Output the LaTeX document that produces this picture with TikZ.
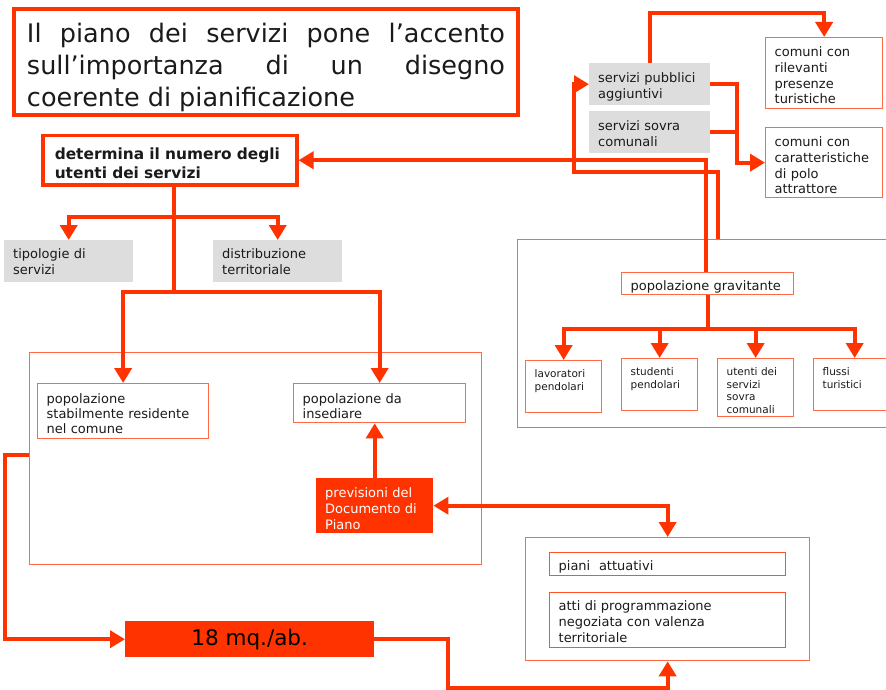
\documentclass[tikz,border=0pt]{standalone}
\usepackage{fontspec}
\setmainfont{DejaVu Sans}
\usetikzlibrary{arrows.meta}
\definecolor{rd}{HTML}{FF3300}
\definecolor{thin}{HTML}{FF6A45}
\definecolor{gr}{HTML}{DDDDDD}
\definecolor{tx}{HTML}{1A1A1A}
\begin{document}
\begin{tikzpicture}[x=1pt,y=-1pt,
 conn/.style={draw=rd,line width=4pt},
 arr/.style={conn,-{Triangle[width=17pt,length=15pt]}},
 dbl/.style={conn,{Triangle[width=17pt,length=15pt]}-{Triangle[width=17pt,length=15pt]}},
 bx/.style={anchor=north west,inner xsep=9pt,inner ysep=0pt,align=left,text=tx,font=\fontsize{13}{16}\selectfont},
 thinb/.style={bx,draw=thin,line width=1.3pt},
 grayb/.style={bx,fill=gr},
 smallb/.style={thinb,font=\fontsize{10.5}{12.6}\selectfont},
 bigframe/.style={draw=thin,line width=1.3pt,anchor=north west,inner sep=0pt},
]
\useasboundingbox (0,0) rectangle (886,690);

% title
\node[bx,draw=rd,line width=4pt,inner xsep=13pt,text width=478pt,text height=34pt,text depth=72pt,align=justify,font=\fontsize{25.5}{32}\selectfont] (title) at (12,7) {Il piano dei servizi pone l’accento\linebreak sull’importanza di un disegno\linebreak coerente di pianificazione};

% left part
\node[bx,draw=rd,line width=3.5pt,inner xsep=12pt,text width=230pt,text height=24pt,text depth=25pt,font=\bfseries\fontsize{15.4}{18.5}\selectfont] (det) at (41,134) {determina il numero degli\\utenti dei servizi};
\node[grayb,text width=111pt,text height=18pt,text depth=24pt] (tip) at (4,240) {tipologie di\\servizi};
\node[grayb,text width=111pt,text height=18pt,text depth=24pt] (dist) at (213,240) {distribuzione\\territoriale};
\node[bigframe,minimum width=452pt,minimum height=212pt] (lbig) at (29,352) {};
\node[thinb,text width=153pt,text height=20pt,text depth=35pt,font=\fontsize{13}{15}\selectfont] (stab) at (37,383) {popolazione\\stabilmente residente\\nel comune};
\node[thinb,text width=154pt,text height=20pt,text depth=19pt,font=\fontsize{13}{15}\selectfont] (ins) at (293,383) {popolazione da\\insediare};
\node[bx,fill=rd,text=white,text width=99pt,text height=19pt,text depth=36pt] (prev) at (316,478) {previsioni del\\Documento di\\Piano};

% bottom
\node[bigframe,minimum width=284pt,minimum height=123pt] (rb) at (525,537) {};
\node[thinb,draw=rd!85!white,text width=218pt,text height=18pt,text depth=5pt] (piani) at (549,552) {piani\ \ attuativi};
\node[thinb,draw=rd!85!white,text width=218pt,text height=18pt,text depth=37pt] (atti) at (549,592) {atti di programmazione\\negoziata con valenza\\territoriale};
\node[fill=rd,anchor=north west,minimum width=249pt,minimum height=36pt,inner sep=0pt,font=\fontsize{21.5}{24}\selectfont,text=black] (mq) at (125,621) {18 mq./ab.};

% top right
\node[grayb,text width=103pt,text height=19pt,text depth=23pt] (spa) at (589,63) {servizi pubblici\\aggiuntivi};
\node[grayb,text width=103pt,text height=19pt,text depth=23pt] (ssc) at (589,111) {servizi sovra\\comunali};
\node[thinb,text width=99pt,text height=19pt,text depth=52pt,font=\fontsize{13}{15.7}\selectfont] (crt) at (765,37) {comuni con\\rilevanti\\presenze\\turistiche};
\node[thinb,text width=99pt,text height=19pt,text depth=51pt,font=\fontsize{13}{15.7}\selectfont] (cpa) at (765,127) {comuni con\\caratteristiche\\di polo\\attrattore};

% right big
\node[bigframe,minimum width=383pt,minimum height=188pt] (rbig) at (517,239) {};
\node[thinb,text width=154pt,text height=18pt,text depth=4pt] (grav) at (621,272) {popolazione gravitante};
\node[smallb,text width=58pt,text height=17pt,text depth=35pt] (lav) at (525,360) {lavoratori\\pendolari};
\node[smallb,text width=58pt,text height=17pt,text depth=35pt] (stud) at (621,358) {studenti\\pendolari};
\node[smallb,text width=58pt,text height=17pt,text depth=41pt] (ute) at (717,358) {utenti dei\\servizi\\sovra\\comunali};
\node[smallb,text width=64pt,text height=17pt,text depth=35pt] (flu) at (813,358) {flussi\\turistici};

% connectors left tree
\draw[conn] ([xshift=4pt]det.south) -- ++(0,30) coordinate (b1) -- ++(0,75) coordinate (b2);
\draw[arr] (b1) -| (tip.north);
\draw[arr] (b1) -| (dist.north);
\draw[arr] (b2) -| (stab.north);
\draw[arr] (b2) -| (ins.north);
\draw[arr] (prev.north) -- (prev.north |- ins.south);
\draw[dbl] (prev.east) -| (rb.north);
\draw[arr] ([yshift=-103pt]lbig.north west) -- ++(-24,0) |- (mq.west);
\draw[arr] (mq.east) -- ++(74,0) -- ++(0,49) -| (rb.south);

% right connectors
\draw[arr] ([xshift=-2pt]grav.north) |- (det.east);
\draw[arr] ([xshift=10pt]grav.north |- rbig.north) -- ++(0,-67) -- ++(-144,0) |- (spa.west);
\draw[arr] (spa.north) -- ++(0,-50) -| (crt.north);
\draw[arr] (spa.east) -- ++(27,0) |- (cpa.west);
\draw[conn] (ssc.east) -- ++(27,0);
\draw[conn] (grav.south) -- ++(0,34) coordinate (gj);
\draw[arr] (gj) -| (lav.north);
\draw[arr] (gj) -| (stud.north);
\draw[arr] (gj) -| (ute.north);
\draw[arr] (gj) -| (flu.north);
\end{tikzpicture}
\end{document}
